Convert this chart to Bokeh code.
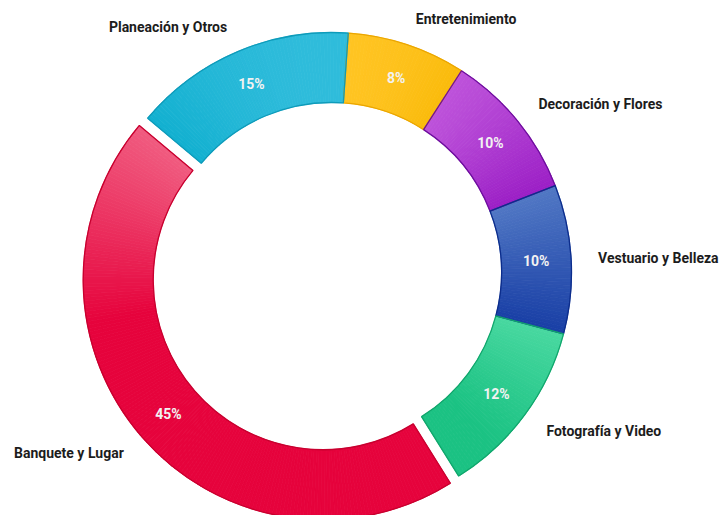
import math
from bokeh.plotting import figure
from bokeh.models import Range1d, ColumnDataSource
from bokeh.embed import file_html
from bokeh.resources import INLINE
from bokeh.core.properties import value

# ---- data ----
categories = ["Entretenimiento", "Decoración y Flores", "Vestuario y Belleza",
              "Fotografía y Video", "Banquete y Lugar", "Planeación y Otros"]
shares = [8, 10, 10, 12, 45, 15]
pct_labels = ["8%", "10%", "10%", "12%", "45%", "15%"]

# ---- style ----
base_colors = ["#FABB0C", "#9C20C6", "#1A40A6", "#1BC283", "#E6033C", "#12B0D0"]
light_colors = ["#FFC422", "#BD52DA", "#5077C4", "#48D8A0", "#F05A7F", "#2FBCDB"]
grad_extent = [1.0, 1.0, 1.0, 0.8, 0.5, 1.0]
edge_colors = ["#EBA600", "#6E0E9E", "#0C2D8C", "#10A66C", "#C8002F", "#0E9BBA"]
explode = [0, 0, 0, 0, 11, 0]

W, H = 721, 515
cx, cy = 331, 243
r_in, r_out = 170, 240
start_deg = 4.0
label_r = 267
pct_r = 205


def hex2rgb(h):
    h = h.lstrip("#")
    return [int(h[i:i + 2], 16) for i in (0, 2, 4)]


def mix(c1, c2, f):
    a, b = hex2rgb(c1), hex2rgb(c2)
    return "#%02x%02x%02x" % tuple(int(round(a[k] + (b[k] - a[k]) * f)) for k in range(3))


p = figure(width=W, height=H, x_range=Range1d(0, W), y_range=Range1d(0, H),
           output_backend="svg", toolbar_location=None, min_border=0)
p.xaxis.visible = False
p.yaxis.visible = False
p.grid.visible = False
p.outline_line_color = None
p.background_fill_color = "white"

xs, ys, sa, ea = [], [], [], []
lx, ly, lalign = [], [], []
px, py = [], []
gx, gy, gsa, gea, gcol = [], [], [], [], []
t = start_deg
for i, s in enumerate(shares):
    t1 = t
    t2 = t + s * 3.6
    m = math.radians((t1 + t2) / 2)
    ox = cx + explode[i] * math.sin(m)
    oy = cy + explode[i] * math.cos(m)
    xs.append(ox)
    ys.append(oy)
    sa.append(math.radians(90 - t2))
    ea.append(math.radians(90 - t1))
    lr = label_r + 0.75 * explode[i]
    lx.append(cx + lr * math.sin(m))
    ly.append(cy + lr * math.cos(m))
    lalign.append("left" if math.sin(m) > 0 else "right")
    px.append(ox + pct_r * math.sin(m))
    py.append(oy + pct_r * math.cos(m))

    # gradient slices (lighter towards the top of each segment)
    n = max(12, int((t2 - t1) * 1.2))
    step = (t2 - t1) / n
    rm = (r_in + r_out) / 2
    mids = [t1 + step * (k + 0.5) for k in range(n)]
    yv = [oy + rm * math.cos(math.radians(a)) for a in mids]
    ytop, ybot = max(yv), min(yv)
    span = max(ytop - ybot, 1e-6)
    for k, a in enumerate(mids):
        f = min(1.0, (ytop - yv[k]) / span / grad_extent[i])
        gx.append(ox)
        gy.append(oy)
        gsa.append(math.radians(90 - (a + step / 2)))
        gea.append(math.radians(90 - (a - step / 2)))
        gcol.append(mix(light_colors[i], base_colors[i], f))
    t = t2

gsrc = ColumnDataSource(dict(x=gx, y=gy, sa=gsa, ea=gea, color=gcol))
p.annular_wedge(x="x", y="y", inner_radius=r_in, outer_radius=r_out,
                start_angle="sa", end_angle="ea", fill_color="color",
                line_color="color", line_width=0.8, source=gsrc)

src = ColumnDataSource(dict(x=xs, y=ys, sa=sa, ea=ea, edge=edge_colors,
                            lx=lx, ly=ly, align=lalign, cat=categories,
                            px=px, py=py, pct=pct_labels))

p.annular_wedge(x="x", y="y", inner_radius=r_in, outer_radius=r_out,
                start_angle="sa", end_angle="ea", fill_alpha=0,
                line_color="edge", line_width=1.3, source=src)

p.text(x="lx", y="ly", text="cat", text_align="align", text_baseline="middle",
       text_font=value("Roboto"), text_font_style="bold", text_font_size="14px",
       text_color="#1c1c1c", source=src)

p.text(x="px", y="py", text="pct", text_align="center", text_baseline="middle",
       text_font=value("Roboto"), text_font_style="bold", text_font_size="14px",
       text_color="#F2F2F2", source=src)

open("out.html", "w").write(file_html(p, INLINE))
